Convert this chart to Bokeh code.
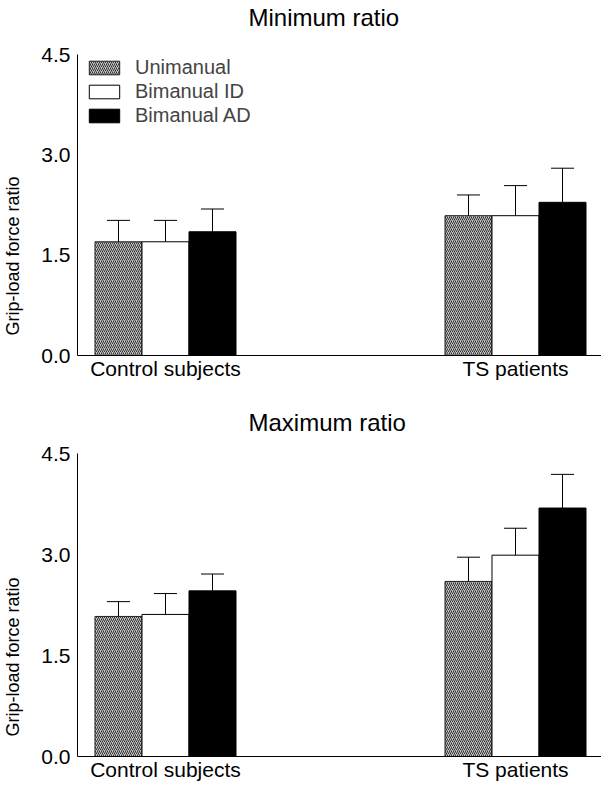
from bokeh.plotting import figure
from bokeh.models import (Range1d, FixedTicker, Whisker, TeeHead, ColumnDataSource,
                          Legend, LegendItem, Title, NumeralTickFormatter)
from bokeh.layouts import column
from bokeh.embed import file_html
from bokeh.resources import INLINE

groups = ["Control subjects", "TS patients"]
conditions = ["Unimanual", "Bimanual ID", "Bimanual AD"]

# Minimum ratio: means and SD (per condition, [control, TS])
min_uni = [1.70, 2.09]
min_bid = [1.70, 2.09]
min_bad = [1.85, 2.29]
min_uni_sd = [0.32, 0.31]
min_bid_sd = [0.32, 0.45]
min_bad_sd = [0.34, 0.51]

# Maximum ratio
max_uni = [2.08, 2.60]
max_bid = [2.11, 2.99]
max_bad = [2.46, 3.69]
max_uni_sd = [0.22, 0.36]
max_bid_sd = [0.31, 0.40]
max_bad_sd = [0.25, 0.50]

y_ticks = [0.0, 1.5, 3.0, 4.5]

FONT = "Liberation Sans"
group_x = [1, 2]
bar_w = 0.1343
offsets = [-bar_w, 0.0, bar_w]

styles = [
    dict(fill_color="#c4c4c4", line_color="#222222", hatch_pattern="/",
         hatch_color="#303030", hatch_scale=4, hatch_weight=1),
    dict(fill_color="white", line_color="black"),
    dict(fill_color="black", line_color="black"),
]


def spacer(size):
    return Title(text=" ", text_font_size="1px", standoff=size, text_color="white")


def make_panel(title, means, sds, height, top, bottom, top_gap, legend):
    p = figure(width=601, height=height, output_backend="svg", toolbar_location=None,
               x_range=Range1d(0.7486, 2.2457), y_range=Range1d(0, 4.5),
               min_border_left=77, min_border_right=0, min_border_top=top,
               min_border_bottom=bottom, title=None)
    p.add_layout(spacer(top_gap), "above")
    p.add_layout(Title(text=title, align="left", offset=171, vertical_align="top",
                       standoff=0, text_font=FONT, text_font_size="24px",
                       text_font_style="normal", text_color="black"), "above")
    p.outline_line_color = None
    p.xgrid.visible = False
    p.ygrid.visible = False
    p.background_fill_color = "white"

    renderers = []
    for i in range(3):
        xs = [g + offsets[i] for g in group_x]
        src = ColumnDataSource(dict(x=xs, top=means[i],
                                    upper=[m + s for m, s in zip(means[i], sds[i])]))
        r = p.vbar(x="x", top="top", bottom=0, width=bar_w, source=src,
                   line_width=1, **styles[i])
        renderers.append(r)
        w = Whisker(source=src, base="x", lower="top", upper="upper", dimension="height",
                    line_color="black", line_width=1, lower_head=None,
                    upper_head=TeeHead(size=23, line_color="black", line_width=1),
                    level="overlay")
        p.add_layout(w)

    p.yaxis.ticker = FixedTicker(ticks=y_ticks)
    p.yaxis.formatter = NumeralTickFormatter(format="0.0")
    p.xaxis.ticker = FixedTicker(ticks=group_x)
    p.xaxis.major_label_overrides = {1: groups[0], 2: groups[1]}
    for ax in (p.xaxis[0], p.yaxis[0]):
        ax.axis_line_color = "black"
        ax.axis_line_width = 1
        ax.major_tick_line_color = None
        ax.minor_tick_line_color = None
        ax.major_tick_out = 0
        ax.major_tick_in = 0
        ax.minor_tick_out = 0
        ax.major_label_text_font = FONT
        ax.major_label_text_color = "black"
        ax.major_label_text_font_size = "21px"
    p.yaxis.major_label_standoff = 7
    p.xaxis.major_label_standoff = 1

    p.add_layout(spacer(11), "left")
    p.add_layout(Title(text="Grip-load force ratio", align="left", offset=20,
                       vertical_align="top",
                       text_font=FONT, text_font_size="18px", text_font_style="normal",
                       text_color="black", standoff=0), "left")

    if legend:
        items = [LegendItem(label=c, renderers=[r]) for c, r in zip(conditions, renderers)]
        lg = Legend(items=items, location=(8, 228), glyph_width=38, glyph_height=17,
                    label_height=17, spacing=1, padding=2, margin=0, label_standoff=12,
                    label_text_font=FONT, label_text_font_size="20px",
                    border_line_color=None, background_fill_alpha=0)
        p.add_layout(lg)
    return p


p1 = make_panel("Minimum ratio", [min_uni, min_bid, min_bad],
                [min_uni_sd, min_bid_sd, min_bad_sd], 398, 54, 43, 19, True)
p2 = make_panel("Maximum ratio", [max_uni, max_bid, max_bad],
                [max_uni_sd, max_bid_sd, max_bad_sd], 388, 55, 30, 13, False)

layout = column(p1, p2, spacing=0)
open("out.html", "w").write(file_html(layout, INLINE))
